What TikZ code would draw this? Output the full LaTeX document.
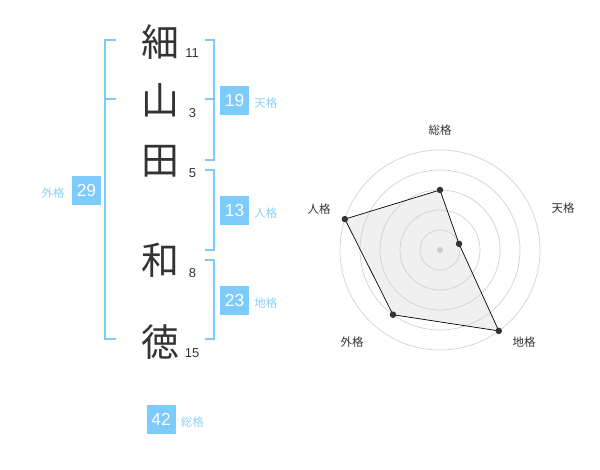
\documentclass[tikz,border=0pt]{standalone}
\usepackage{fontspec}
\setmainfont{Liberation Sans}
\newfontfamily\jp{Noto Sans CJK JP}
\usetikzlibrary{calc,positioning}
\definecolor{boxblue}{HTML}{7DCBFA}
\definecolor{kakublue}{HTML}{8CCFF5}
\definecolor{ink}{HTML}{333333}
\tikzset{every picture/.style={
  line join=miter                % Square bracket corners.
  }
}

\begin{document}
\begin{tikzpicture}[
    x=1bp,y=-1bp,
    kanji/.style={font=\jp\fontsize{38}{38}\selectfont,text=ink,inner sep=0pt},
    strokes/.style={font=\fontsize{13}{13}\selectfont,text=ink,inner sep=0pt},
    score/.style={fill=boxblue,text=white,minimum size=29bp,inner sep=0pt,
      font=\fontsize{17.5}{17.5}\selectfont},
    kaku/.style={text=kakublue,inner sep=0pt,font=\jp\fontsize{11.5}{11.5}\selectfont},
    bracket/.style={draw=boxblue,line width=1.5bp},
    ring/.style={draw=black!18,line width=0.7bp},
    dot/.style={circle,fill=ink,inner sep=0pt,minimum size=6.5bp},
    axis/.style={text=ink,inner sep=0pt,font=\jp\fontsize{11.5}{11.5}\selectfont}
  ]
    \useasboundingbox (0,0) rectangle (600,470);

    % Helper macros.
    \def\rb#1#2{ \draw[bracket] (205,#1) -- (214,#1) -- (214,#2) -- (205,#2) }
    \def\tick#1#2#3{ \draw[bracket] (#1,#3) -- (#2,#3) }

    % The name, one character after another.
    \node[kanji] (c1) at (160,42) {細};
    \node[kanji] (c2) at (160,100) {山};
    \node[kanji] (c3) at (160,161) {田};
    \node[kanji] (c4) at (160,260) {和};
    \node[kanji] (c5) at (160,342) {徳};

    % Stroke counts.
    \node[strokes] (n1) at (192,53) {11};
    \node[strokes] (n2) at (192.5,113) {3};
    \node[strokes] (n3) at (192.5,173) {5};
    \node[strokes] (n4) at (192.5,273) {8};
    \node[strokes] (n5) at (192,353) {15};

    % Brackets joining the characters.
    \draw[bracket] (116,40) -- (105,40) -- (105,339) -- (116,339);
    \tick{105}{116}{99};
    \rb{40}{160};
    \tick{205}{214}{99};
    \rb{170}{250};
    \rb{260}{339};

    % The five scores and their names.
    \node[score] (ten) at (234.5,100.5) {19};
    \node[kaku,right=5bp of ten,yshift=-3bp] (tenl) {天格};
    \node[score] (jin) at (234.5,210.5) {13};
    \node[kaku,right=5bp of jin,yshift=-3bp] (jinl) {人格};
    \node[score] (chi) at (234.5,300.5) {23};
    \node[kaku,right=5bp of chi,yshift=-3bp] (chil) {地格};
    \node[score] (gai) at (86.5,190.5) {29};
    \node[kaku,left=7bp of gai,yshift=-3bp] (gail) {外格};
    \node[score] (sou) at (161,419) {42};
    \node[kaku,right=5bp of sou,yshift=-3bp] (soul) {総格};

    % Radar chart of the five scores.
    \begin{scope}[shift={(440,250)},y=1bp]
      \coordinate (rsou) at (90:60);
      \coordinate (rten) at (18:20);
      \coordinate (rchi) at (-54:100);
      \coordinate (rgai) at (-126:80);
      \coordinate (rjin) at (162:100);

      % Fill first, so that the rings show through it.
      \fill[black!6]
        (rsou) -- (rten) -- (rchi) -- (rgai) -- (rjin) -- cycle;
      \draw[ring] (0,0) circle (20);
      \draw[ring] (0,0) circle (40);
      \draw[ring] (0,0) circle (60);
      \draw[ring] (0,0) circle (80);
      \draw[ring] (0,0) circle (100);
      \fill[black!20] (0,0) circle (3);

      \draw[line width=0.7bp,line join=round]
        (rsou) -- (rten) -- (rchi) -- (rgai) -- (rjin) -- cycle;
      \node[dot] (dsou) at (rsou) {};
      \node[dot] (dten) at (rten) {};
      \node[dot] (dchi) at (rchi) {};
      \node[dot] (dgai) at (rgai) {};
      \node[dot] (djin) at (rjin) {};

      % Axis names.
      \node[axis] (asou) at (0,120) {総格};
      \node[axis] (aten) at (123,42) {天格};
      \node[axis] (achi) at (84,-92) {地格};
      \node[axis] (agai) at (-88,-92) {外格};
      \node[axis] (ajin) at (-121,41) {人格};
    \end{scope}
  \end{tikzpicture}
\end{document}
